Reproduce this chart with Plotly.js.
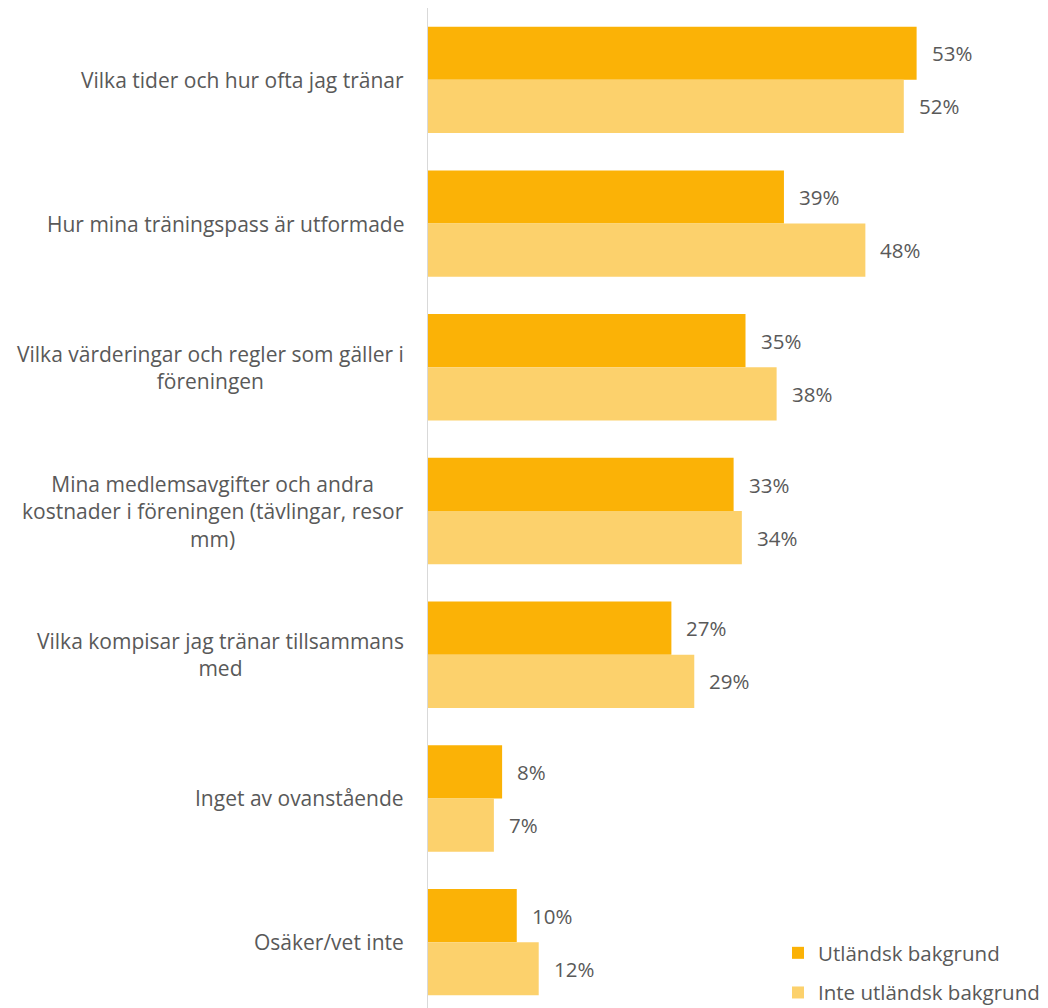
<!DOCTYPE html>
<html>
<head>
<meta charset="utf-8">
<script src="https://cdn.plot.ly/plotly-3.0.1.min.js"></script>
<style>html,body{margin:0;padding:0;background:#fff;}#chart{width:1048px;height:1008px;}</style>
</head>
<body>
<div id="chart"></div>
<script>
var categories = [
  "Vilka tider och hur ofta jag tränar",
  "Hur mina träningspass är utformade",
  "Vilka värderingar och regler som gäller i<br>föreningen",
  "Mina medlemsavgifter och andra<br>kostnader i föreningen (tävlingar, resor<br>mm)",
  "Vilka kompisar jag tränar tillsammans<br>med",
  "Inget av ovanstående",
  "Osäker/vet inte"
];
var seriesNames = ["Utländsk bakgrund", "Inte utländsk bakgrund"];
var utlandsk = [53.4, 38.9, 34.7, 33.4, 26.6, 8.1, 9.7];
var inteUtlandsk = [52.0, 47.8, 38.1, 34.3, 29.1, 7.2, 12.1];
var utlandskLabels = ["53%", "39%", "35%", "33%", "27%", "8%", "10%"];
var inteUtlandskLabels = ["52%", "48%", "38%", "34%", "29%", "7%", "12%"];

var FONT = "Open Sans, sans-serif";
var TXT = "#595959";
var idx = categories.map(function(_, i){ return i; });

var traces = [
  {type:"bar", orientation:"h", name:seriesNames[0], y:idx, x:utlandsk, legendgroup:"a",
   marker:{color:"#FBB206"}, hoverinfo:"x"},
  {type:"bar", orientation:"h", name:seriesNames[1], y:idx, x:inteUtlandsk, legendgroup:"b",
   marker:{color:"#FCD16C"}, hoverinfo:"x"}
];

var ann = [];
categories.forEach(function(c, i){
  ann.push({text:c, xref:"paper", x:0, xanchor:"right", xshift:-22, yref:"y", y:i,
    yanchor:"middle", align:"center", showarrow:false, font:{family:FONT, size:21, color:TXT}});
  ann.push({text:utlandskLabels[i], xref:"x", x:utlandsk[i], xanchor:"left", xshift:13,
    yref:"y", y:i, yshift:26.5, showarrow:false, font:{family:FONT, size:20.5, color:TXT}});
  ann.push({text:inteUtlandskLabels[i], xref:"x", x:inteUtlandsk[i], xanchor:"left", xshift:13,
    yref:"y", y:i, yshift:-26.5, showarrow:false, font:{family:FONT, size:20.5, color:TXT}});
});

var layout = {
  width:1048, height:1008,
  margin:{l:428, r:71, t:8, b:0, autoexpand:false},
  paper_bgcolor:"#fff", plot_bgcolor:"#fff",
  barmode:"group", bargap:0.26, bargroupgap:0,
  showlegend:true,
  legend:{x:0.6375, xanchor:"left", y:-0.005, yanchor:"bottom", traceorder:"grouped", tracegroupgap:10,
    font:{family:FONT, size:20.5, color:TXT}, bgcolor:"rgba(0,0,0,0)", itemclick:false},
  xaxis:{range:[0,60], showgrid:false, zeroline:false, showticklabels:false, showline:false, fixedrange:true},
  yaxis:{range:[6.458,-0.5], showgrid:false, zeroline:false, showticklabels:false,
    showline:true, linecolor:"#d9d9d9", linewidth:1.5, fixedrange:true},
  annotations:ann,
  font:{family:FONT, color:TXT}
};

Plotly.newPlot("chart", traces, layout, {displayModeBar:false, staticPlot:true});
</script>
</body>
</html>
